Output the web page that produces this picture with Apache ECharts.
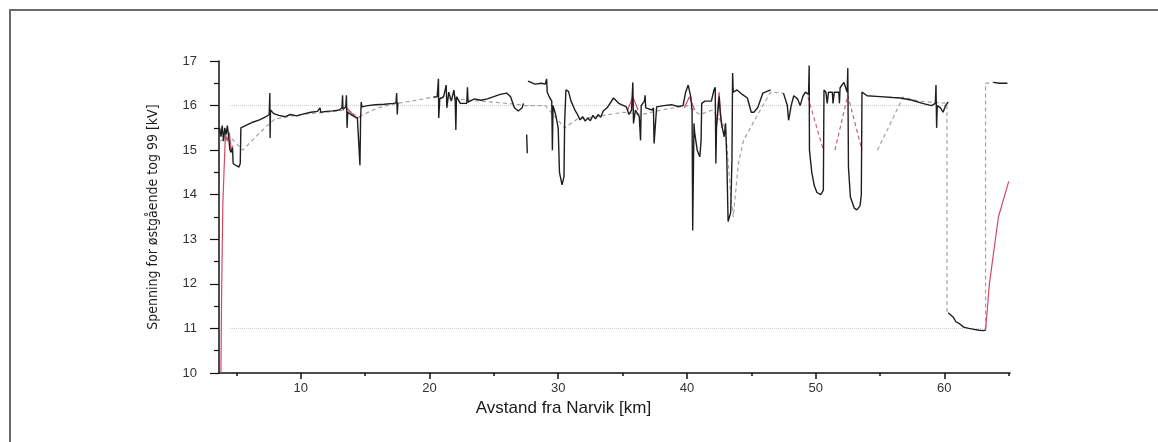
<!DOCTYPE html>
<html>
<head>
<meta charset="utf-8">
<script src="https://cdn.jsdelivr.net/npm/echarts@6/dist/echarts.min.js"></script>
<style>
  html, body { margin: 0; padding: 0; background: #fff; }
  #chart { width: 1158px; height: 442px; }
</style>
</head>
<body>
<div id="chart"></div>
<script>
// målt spenning (svart), km / kV, null = hull i målingene
const maalt = [
  [3.7,15.5],[3.8,15.3],[3.9,15.55],[4.0,15.2],[4.1,15.5],[4.2,15.35],[4.3,15.55],[4.4,15.3],[4.5,15.0],[4.6,14.95],
  [4.7,15.05],[4.75,14.7],[5.0,14.65],[5.2,14.62],[5.3,14.7],[5.35,15.5],[5.7,15.55],[6.2,15.62],[6.8,15.68],[7.3,15.75],
  [7.55,15.8],[7.6,16.28],[7.62,15.27],[7.65,15.9],[7.9,15.82],[8.3,15.78],[8.8,15.75],[9.2,15.8],[9.7,15.77],[10.3,15.82],
  [10.8,15.85],[11.3,15.87],[11.5,15.95],[11.55,15.85],[12.0,15.87],[12.5,15.88],[13.0,15.9],[13.2,15.95],[13.25,16.23],[13.28,15.92],
  [13.5,15.97],[13.55,16.23],[13.6,15.5],[13.65,15.85],[14.0,15.78],[14.4,15.72],[14.55,15.75],[14.6,14.66],[14.65,15.7],[14.7,16.08],
  [14.75,15.97],[15.2,16.0],[15.8,16.02],[16.5,16.03],[17.2,16.05],[17.4,16.06],[17.45,16.28],[17.5,15.8],[17.55,16.07],null,
  [20.3,16.19],[20.6,16.2],[20.7,16.6],[20.72,15.72],[20.8,16.15],[21.1,16.2],[21.3,16.46],[21.35,15.95],[21.5,16.3],[21.7,16.1],
  [21.9,16.35],[22.0,16.1],[22.05,15.45],[22.1,16.2],[22.4,16.05],[22.9,16.05],[22.95,16.41],[23.0,16.08],[23.5,16.15],[24.0,16.12],
  [24.5,16.15],[25.0,16.2],[25.5,16.25],[26.0,16.28],[26.3,16.2],[26.6,15.95],[26.9,15.88],[27.2,15.95],[27.3,16.05],null,
  [27.55,15.35],[27.6,14.93],null,
  [27.65,16.55],[27.7,16.52],[28.2,16.48],[28.7,16.5],[29.0,16.48],[29.1,16.6],[29.15,16.3],[29.3,16.2],[29.5,16.1],[29.55,15.0],
  [29.6,16.0],[29.8,15.8],[30.0,15.5],[30.1,14.5],[30.3,14.22],[30.45,14.4],[30.5,15.6],[30.6,16.35],[30.8,16.32],[31.0,16.1],
  [31.3,15.9],[31.5,15.8],[31.7,15.68],[31.9,15.75],[32.1,15.65],[32.3,15.72],[32.5,15.66],[32.7,15.78],[32.9,15.7],[33.1,15.8],
  [33.3,15.74],[33.5,15.88],[33.8,15.95],[34.3,16.17],[34.7,16.05],
  [35.3,15.97],[35.5,15.8],[35.7,15.9],[35.8,16.52],[35.85,15.6],[36.0,15.9],[36.3,15.75],[36.4,15.22],[36.45,16.0],[36.7,16.1],
  [36.75,16.23],[36.8,15.95],[37.3,15.9],[37.4,15.95],[37.45,15.15],[37.6,15.15],[37.65,15.97],[38.2,16.0],[38.8,16.02],[39.3,15.98],
  [39.7,16.0],[39.9,16.3],[40.1,16.46],[40.3,16.2],[40.4,15.9],[40.45,13.2],[40.55,15.6],[40.6,15.4],[40.8,15.0],[41.0,14.85],
  [41.1,15.2],[41.15,16.05],[41.4,16.1],[41.9,16.1],[42.1,16.35],[42.2,16.41],[42.25,14.7],[42.3,15.5],[42.5,16.2],[42.6,15.8],
  [42.75,15.5],[42.9,15.3],[43.0,15.6],[43.1,14.8],[43.2,13.4],[43.3,13.36],[43.4,13.6],[43.5,14.8],[43.55,16.73],[43.6,16.3],
  [43.9,16.35],[44.3,16.25],[44.7,16.17],[45.0,15.85],[45.2,15.85],[45.5,15.95],[45.9,16.28],[46.5,16.35],null,
  [47.5,16.28],[47.8,16.0],[47.9,15.67],[48.1,16.0],[48.3,16.22],[48.6,16.15],[48.8,16.0],[49.0,16.2],[49.2,16.3],[49.45,16.25],
  [49.5,16.9],[49.52,15.0],[49.6,15.0],[49.7,14.5],[49.9,14.2],[50.1,14.05],[50.4,14.0],[50.6,14.1],[50.65,16.35],[50.8,16.3],
  [50.9,16.05],[51.0,16.3],[51.3,16.3],[51.35,16.05],[51.45,16.3],[51.8,16.3],[51.85,16.05],[51.9,16.4],[52.2,16.52],[52.45,16.3],
  [52.5,16.84],[52.55,14.62],[52.7,13.95],[53.0,13.7],[53.2,13.66],[53.45,13.75],[53.55,14.0],[53.6,16.3],[54.0,16.22],[55.0,16.2],
  [56.0,16.18],[56.6,16.17],[57.5,16.12],[58.3,16.05],[59.0,16.0],[59.3,16.05],[59.35,16.46],[59.4,15.5],[59.45,16.0],[59.7,15.95],
  [59.9,15.85],[60.1,16.0],[60.3,16.08],null,
  [60.3,11.35],[60.5,11.3],[60.7,11.25],[60.9,11.15],[61.2,11.1],[61.5,11.03],[61.9,11.0],[62.3,10.98],[62.7,10.96],[63.0,10.95],
  [63.2,10.96],null,
  [63.8,16.52],[64.3,16.5],[64.9,16.5]
];

// beregnet (rød, heltrukket)
const beregnetRod = [
  [3.8,10.0],[3.85,11.7],[3.95,13.8],[4.05,14.6],[4.15,15.35],[4.3,15.2],[4.45,15.4],[4.6,15.0],[4.75,15.1],null,
  [13.5,15.97],[13.9,15.85],[14.3,15.72],[14.6,15.75],null,
  [35.4,15.9],[35.8,16.2],[36.2,15.9],null,
  [39.8,15.95],[40.2,16.2],[40.6,15.9],null,
  [42.3,15.6],[42.5,16.3],[42.7,15.5],null,
  [63.2,10.96],[63.5,12.0],[64.2,13.5],[65.0,14.3]
];

// beregnet (rød, stiplet)
const beregnetRodStiplet = [
  [49.4,16.19],[50.6,15.0],null,
  [51.5,15.0],[52.5,16.23],[53.6,15.0]
];

// beregnet (grå, stiplet)
const beregnetGraa = [
  [3.7,15.2],[4.5,15.3],[5.5,15.0],[6.5,15.3],[7.4,15.55],[8.0,15.7],[10.0,15.8],[12.0,15.85],[13.5,15.9],[14.5,15.75],
  [16.0,15.95],[17.5,16.05],[19.0,16.12],[20.3,16.19],[22.0,16.15],[24.0,16.1],[26.0,16.05],[27.5,16.0],[29.0,16.0],[30.5,15.5],
  [31.5,15.7],[33.0,15.75],[35.0,15.85],[36.5,15.8],[38.0,15.9],[40.0,16.0],[41.0,15.8],[42.0,15.9],[43.0,15.5],[43.4,14.0],
  [43.6,13.5],[44.0,14.7],[44.4,15.22],[45.5,15.8],[46.5,16.3],[47.5,16.28],null,
  [54.8,15.0],[56.8,16.19],[58.0,16.1],[60.2,16.05],[60.2,11.35],null,
  [63.2,11.0],[63.2,16.5],[63.8,16.52]
];

// referanselinjer 16 kV og 11 kV
const ref16 = [[4.5,16],[60.2,16]];
const ref11 = [[4.5,11],[63.2,11]];

const xMajor = [10, 20, 30, 40, 50, 60];
const xMinor = [5, 15, 25, 35, 45, 55, 65];

const chart = echarts.init(document.getElementById('chart'));
const font = 'Liberation Sans, Arial, sans-serif';

const option = {
  animation: false,
  backgroundColor: '#fff',
  graphic: [{
    type: 'rect',
    shape: { x: 10, y: 10, width: 1170, height: 450 },
    style: { fill: 'none', stroke: '#6a6a6a', lineWidth: 2 },
    silent: true
  }],
  grid: { left: 219, right: 148, top: 61, bottom: 69 },
  xAxis: [{
    type: 'value',
    min: 3.65,
    max: 65.1,
    name: 'Avstand fra Narvik [km]',
    nameLocation: 'middle',
    nameGap: 21,
    nameTextStyle: { fontFamily: font, fontSize: 17, color: '#1a1a1a', padding: [0, 102, 0, 0] },
    axisLine: { onZero: false, lineStyle: { color: '#111', width: 1.5 } },
    axisTick: { show: true, inside: false, length: 6, customValues: xMajor, lineStyle: { color: '#111', width: 1.5 } },
    axisLabel: { customValues: xMajor, margin: 9, fontFamily: font, fontSize: 13, color: '#333' },
    splitLine: { show: false }
  }, {
    type: 'value',
    min: 3.65,
    max: 65.1,
    position: 'bottom',
    axisLine: { show: false },
    axisTick: { show: true, length: 3, customValues: xMinor, lineStyle: { color: '#111', width: 1.5 } },
    axisLabel: { show: false },
    splitLine: { show: false }
  }],
  yAxis: {
    type: 'value',
    min: 10,
    max: 17,
    interval: 1,
    name: 'Spenning for østgående tog 99 [kV]',
    nameLocation: 'middle',
    nameRotate: 90,
    nameGap: 59,
    nameTextStyle: { fontFamily: 'Liberation Sans Narrow, DejaVu Sans Condensed, Arial Narrow, sans-serif', fontSize: 14, color: '#1a1a1a' },
    axisLine: { show: true, lineStyle: { color: '#111', width: 1.5 } },
    axisTick: { show: true, length: 9, lineStyle: { color: '#111', width: 1.2 } },
    minorTick: { show: true, splitNumber: 2, length: 5, lineStyle: { color: '#111', width: 1.2 } },
    axisLabel: { margin: 22, fontFamily: font, fontSize: 13, color: '#333' },
    splitLine: { show: false }
  },
  series: [{
    name: 'ref16',
    type: 'line',
    data: ref16,
    symbol: 'none',
    silent: true,
    lineStyle: { color: '#c8c8c8', width: 1, type: 'dotted' }
  }, {
    name: 'ref11',
    type: 'line',
    data: ref11,
    symbol: 'none',
    silent: true,
    lineStyle: { color: '#c8c8c8', width: 1, type: 'dotted' }
  }, {
    name: 'beregnet grå',
    type: 'line',
    data: beregnetGraa,
    symbol: 'none',
    connectNulls: false,
    lineStyle: { color: '#a8a0a2', width: 1.2, type: [4, 3] }
  }, {
    name: 'beregnet rød stiplet',
    type: 'line',
    data: beregnetRodStiplet,
    symbol: 'none',
    connectNulls: false,
    lineStyle: { color: '#c86478', width: 1.2, type: [4, 3] }
  }, {
    name: 'beregnet rød',
    type: 'line',
    data: beregnetRod,
    symbol: 'none',
    connectNulls: false,
    lineStyle: { color: '#d04a68', width: 1.2 }
  }, {
    name: 'målt',
    type: 'line',
    data: maalt,
    symbol: 'none',
    connectNulls: false,
    lineStyle: { color: '#1e1e1e', width: 1.4 }
  }]
};

chart.setOption(option);
</script>
</body>
</html>
